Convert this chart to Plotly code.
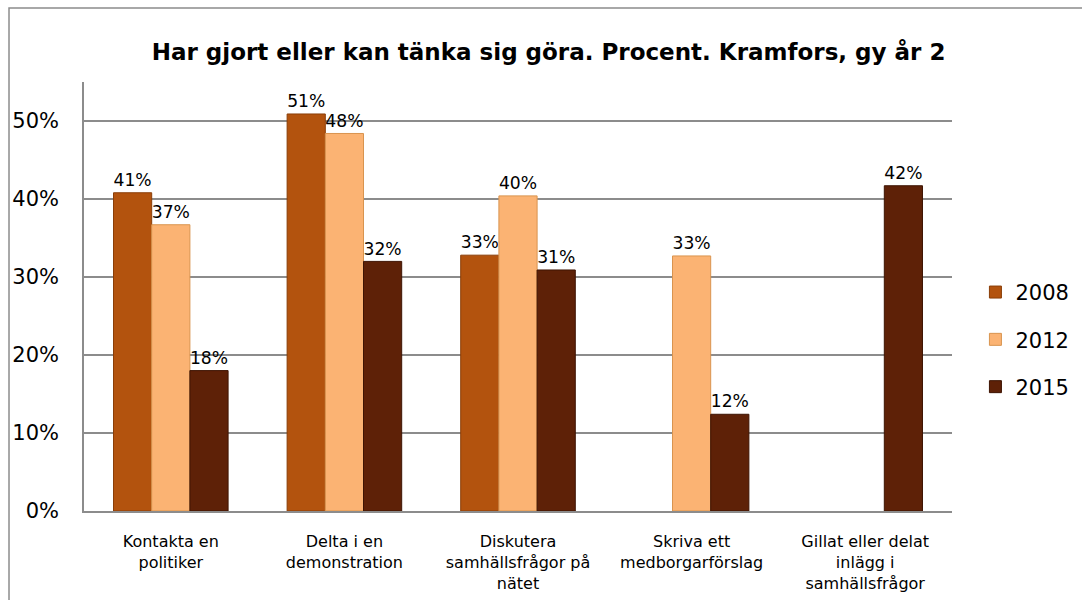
import plotly.graph_objects as go

categories = ["Kontakta en<br>politiker", "Delta i en<br>demonstration",
              "Diskutera<br>samhällsfrågor på<br>nätet", "Skriva ett<br>medborgarförslag",
              "Gillat eller delat<br>inlägg i<br>samhällsfrågor"]
years = ["2008", "2012", "2015"]
v2008 = [0.408, 0.509, 0.328, None, None]
v2012 = [0.367, 0.484, 0.404, 0.327, None]
v2015 = [0.180, 0.320, 0.309, 0.124, 0.417]
series = [v2008, v2012, v2015]
colors = ["#B3530E", "#FBB373", "#5E2107"]
edges = ["#8A3E08", "#D9944F", "#3E1403"]

FONT = "DejaVu Sans, sans-serif"

fig = go.Figure()
for name, vals, c, e in zip(years, series, colors, edges):
    fig.add_trace(go.Bar(
        name=name, x=categories, y=vals,
        marker=dict(color=c, line=dict(color=e, width=1)),
        text=[None if v is None else f"{round(v*100)}%" for v in vals],
        textposition="outside", cliponaxis=False,
        textfont=dict(family=FONT, size=18, color="#000"),
        legendgroup=name,
    ))

fig.update_layout(
    width=1082, height=600,
    paper_bgcolor="white", plot_bgcolor="white",
    margin=dict(l=84, r=130, t=82, b=89, autoexpand=False),
    barmode="group", bargap=0.34, bargroupgap=0,
    font=dict(family=FONT, color="#000"),
    title=dict(text="<b>Har gjort eller kan tänka sig göra. Procent. Kramfors, gy år 2</b>",
               x=0.507, y=0.913, xanchor="center", yanchor="middle",
               font=dict(family=FONT, size=23, color="#000")),
    legend=dict(x=1.027, y=0.40, xanchor="left", yanchor="middle",
                font=dict(family=FONT, size=21), tracegroupgap=17,
                itemwidth=30, bgcolor="rgba(0,0,0,0)"),
    yaxis=dict(range=[0, 0.55], dtick=0.1, tickformat=".0%",
               showgrid=True, gridcolor="#8C8C8C", gridwidth=1.5,
               showline=True, linecolor="#8C8C8C", linewidth=1.5,
               zeroline=False, ticklabelstandoff=19, automargin=False,
               tickfont=dict(family=FONT, size=21, color="#000")),
    xaxis=dict(showline=True, linecolor="#8C8C8C", linewidth=1.5,
               showgrid=False, ticklabelstandoff=15, automargin=False,
               tickfont=dict(family=FONT, size=16, color="#000")),
    showlegend=True,
)

fig.add_shape(type="rect", xref="paper", yref="paper",
              x0=-0.0864, x1=1.25, y0=-0.35, y1=1.1725,
              line=dict(color="#8C8C8C", width=1.5), fillcolor="rgba(0,0,0,0)",
              layer="below")

fig.write_html("out.html", config={"displayModeBar": False},
               post_script="document.body.style.margin='0';document.body.style.padding='0';")
